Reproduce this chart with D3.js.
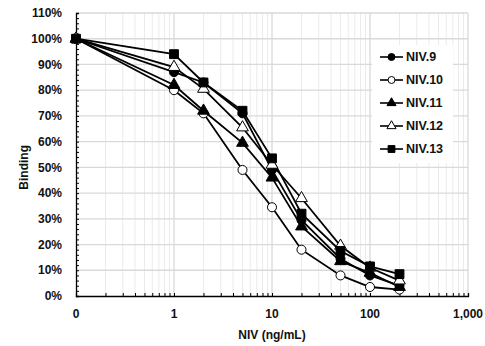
<!DOCTYPE html>
<html>
<head>
<meta charset="utf-8">
<script src="https://cdn.jsdelivr.net/npm/d3@7"></script>
<style>
  body { margin: 0; background: #fff; }
  text { font-family: "Liberation Sans", Arial, sans-serif; font-weight: bold; fill: #111; }
</style>
</head>
<body>
<div id="chart"></div>
<script>
// concentrations (0 is drawn at the 0.1 position of the log axis)
const doses = [0, 1, 2, 5, 10, 20, 50, 100, 200];
const niv9  = [100, 87, 83, 71, 49, 29.5, 14.5, 8, 4];
const niv10 = [100, 80, 71, 49, 34.5, 18, 8, 3.5, 2.5];
const niv11 = [100, 82, 72, 59.5, 46, 27, 13.5, 9, 3.5];
const niv12 = [100, 89, 80.5, 65.5, 51, 38, 19.5, 11, 6];
const niv13 = [100, 94, 83, 72, 53.5, 32, 17.5, 11.5, 8.5];
const seriesNames = ['NIV.9', 'NIV.10', 'NIV.11', 'NIV.12', 'NIV.13'];
const xTicks = [0.1, 1, 10, 100, 1000];
const xTickLabels = ['0', '1', '10', '100', '1,000'];
const yTicks = d3.range(0, 111, 10);

const series = [
  { name: seriesNames[0], values: niv9,  shape: 'circle',   fill: '#000' },
  { name: seriesNames[1], values: niv10, shape: 'circle',   fill: '#fff' },
  { name: seriesNames[2], values: niv11, shape: 'triangle', fill: '#000' },
  { name: seriesNames[3], values: niv12, shape: 'triangle', fill: '#fff' },
  { name: seriesNames[4], values: niv13, shape: 'square',   fill: '#000' },
];

const W = 485, H = 346;
const margin = { top: 13, right: 17, bottom: 50, left: 76 };
const width = W - margin.left - margin.right;
const height = H - margin.top - margin.bottom;

const svg = d3.select('#chart').append('svg')
  .attr('width', W)
  .attr('height', H);

const g = svg.append('g')
  .attr('transform', `translate(${margin.left},${margin.top})`);

const x = d3.scaleLog().domain([0.1, 1000]).range([0, width]);
const y = d3.scaleLinear().domain([0, 110]).range([height, 0]);
const xv = d => x(d === 0 ? 0.1 : d);

// minor log positions
const minor = [];
[0.1, 1, 10, 100].forEach(dec => {
  for (let k = 2; k <= 9; k++) minor.push(dec * k);
});

// gridlines
g.append('g').selectAll('line').data(minor).join('line')
  .attr('x1', d => x(d)).attr('x2', d => x(d))
  .attr('y1', 0).attr('y2', height)
  .attr('stroke', '#ebebeb').attr('stroke-width', 1);

g.append('g').selectAll('line').data(xTicks.slice(1)).join('line')
  .attr('x1', d => x(d)).attr('x2', d => x(d))
  .attr('y1', 0).attr('y2', height)
  .attr('stroke', '#d9d9d9').attr('stroke-width', 1.3);

g.append('g').selectAll('line').data(yTicks.slice(1)).join('line')
  .attr('x1', 0).attr('x2', width)
  .attr('y1', d => y(d)).attr('y2', d => y(d))
  .attr('stroke', '#d9d9d9').attr('stroke-width', 1.3);

// y axis with inward minor ticks
const yAxis = g.append('g')
  .call(d3.axisRight(y).tickValues(d3.range(0, 111, 2)).tickSize(3).tickFormat(''));
yAxis.select('.domain').attr('stroke', '#000').attr('stroke-width', 1.3);
yAxis.selectAll('.tick line').attr('stroke', '#000');

g.append('g').selectAll('text').data(yTicks).join('text')
  .attr('x', -14)
  .attr('y', d => y(d))
  .attr('dy', '0.35em')
  .attr('text-anchor', 'end')
  .style('font-size', '12px')
  .text(d => d + '%');

// x axis with inward ticks
const xAxis = g.append('g')
  .attr('transform', `translate(0,${height})`)
  .call(d3.axisTop(x).tickValues(minor.concat(xTicks)).tickSize(3).tickFormat(''));
xAxis.select('.domain').attr('stroke', '#000').attr('stroke-width', 1.3);
xAxis.selectAll('.tick line').attr('stroke', '#000');

g.append('g').selectAll('text').data(xTicks).join('text')
  .attr('x', d => x(d))
  .attr('y', height + 18)
  .attr('dy', '0.35em')
  .attr('text-anchor', 'middle')
  .style('font-size', '12px')
  .text((d, i) => xTickLabels[i]);

// axis titles
g.append('text')
  .attr('x', x(10))
  .attr('y', height + 39)
  .attr('dy', '0.35em')
  .attr('text-anchor', 'middle')
  .style('font-size', '12px')
  .text('NIV (ng/mL)');

svg.append('text')
  .attr('transform', `translate(24,${margin.top + y(50)}) rotate(-90)`)
  .attr('dy', '0.35em')
  .attr('text-anchor', 'middle')
  .style('font-size', '12px')
  .text('Binding');

const symbolOf = {
  circle: d3.symbolCircle,
  triangle: d3.symbolTriangle,
  square: d3.symbolSquare,
};
const sizeOf = { circle: 64, triangle: 60, square: 78 };

const line = d3.line().x(d => xv(d[0])).y(d => y(d[1]));

series.forEach(s => {
  const pts = doses.map((d, i) => [d, s.values[i]]);
  g.append('path')
    .datum(pts)
    .attr('fill', 'none')
    .attr('stroke', '#000')
    .attr('stroke-width', 1.8)
    .attr('d', line);
});

series.forEach(s => {
  const pts = doses.map((d, i) => [d, s.values[i]]);
  g.append('g').selectAll('path').data(pts).join('path')
    .attr('transform', d => `translate(${xv(d[0])},${y(d[1])})`)
    .attr('d', d3.symbol().type(symbolOf[s.shape]).size(sizeOf[s.shape]))
    .attr('fill', s.fill)
    .attr('stroke', '#000')
    .attr('stroke-width', 1);
});

// legend
const legend = svg.append('g').attr('transform', 'translate(372,45)');
legend.append('rect')
  .attr('width', 81).attr('height', 118)
  .attr('fill', '#fff');

series.forEach((s, i) => {
  const row = legend.append('g').attr('transform', `translate(0,${12 + i * 23})`);
  row.append('line')
    .attr('x1', 8).attr('x2', 31)
    .attr('stroke', '#000').attr('stroke-width', 1.6);
  row.append('path')
    .attr('transform', 'translate(19.5,0)')
    .attr('d', d3.symbol().type(symbolOf[s.shape]).size(sizeOf[s.shape] * 0.6))
    .attr('fill', s.fill)
    .attr('stroke', '#000')
    .attr('stroke-width', 1);
  row.append('text')
    .attr('x', 34)
    .attr('dy', '0.35em')
    .style('font-size', '12.5px')
    .text(s.name);
});
</script>
</body>
</html>
